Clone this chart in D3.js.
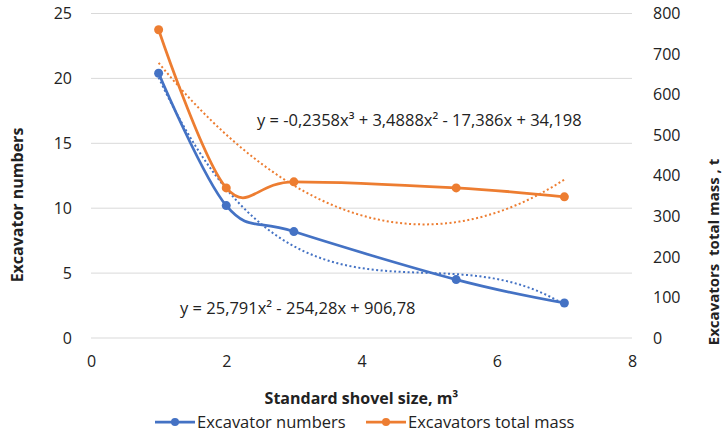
<!DOCTYPE html>
<html>
<head>
<meta charset="utf-8">
<script src="https://cdn.jsdelivr.net/npm/d3@7"></script>
<style>
  body { margin: 0; background: #fff; }
  text { font-family: "Open Sans", sans-serif; fill: #222; }
</style>
</head>
<body>
<svg id="chart" width="725" height="434"></svg>
<script>
// data
const shovelSize = [1, 2, 3, 5.4, 7];
const excavatorNumbers = [20.4, 10.2, 8.2, 4.5, 2.7];
const totalMass = [760, 370, 385, 370, 348];

// trendline coefficients as printed on the chart (highest power first)
const numbersTrend = [-0.2358, 3.4888, -17.386, 34.198];
const massTrend = [25.791, -254.28, 906.78];
const numbersTrendLabel = "y = -0,2358x³ + 3,4888x² - 17,386x + 34,198";
const massTrendLabel = "y = 25,791x² - 254,28x + 906,78";

const xTicks = [0, 2, 4, 6, 8];
const leftTicks = [0, 5, 10, 15, 20, 25];
const rightTicks = [0, 100, 200, 300, 400, 500, 600, 700, 800];

const blue = "#4472c4", orange = "#ed7d31";

const svg = d3.select("#chart");
const margin = { top: 13.5, right: 93, bottom: 96, left: 91 };
const w = 725 - margin.left - margin.right;
const h = 434 - margin.top - margin.bottom;

const x = d3.scaleLinear().domain([0, 8]).range([margin.left, margin.left + w]);
const yL = d3.scaleLinear().domain([0, 25]).range([margin.top + h, margin.top]);
const yR = d3.scaleLinear().domain([0, 800]).range([margin.top + h, margin.top]);

// gridlines
svg.append("g")
  .selectAll("line")
  .data(leftTicks)
  .join("line")
  .attr("x1", x(0)).attr("x2", x(8))
  .attr("y1", d => yL(d)).attr("y2", d => yL(d))
  .attr("stroke", "#d9d9d9").attr("stroke-width", 1);

// axes (no domain lines, no ticks)
const axL = svg.append("g").attr("transform", `translate(${margin.left},0)`)
  .call(d3.axisLeft(yL).tickValues(leftTicks).tickSize(0).tickPadding(19));
const axR = svg.append("g").attr("transform", `translate(${margin.left + w},0)`)
  .call(d3.axisRight(yR).tickValues(rightTicks).tickSize(0).tickPadding(21));
const axB = svg.append("g").attr("transform", `translate(0,${margin.top + h})`)
  .call(d3.axisBottom(x).tickValues(xTicks).tickSize(0).tickPadding(18));
[axL, axR, axB].forEach(a => {
  a.select(".domain").remove();
  a.selectAll("text").attr("font-size", 16).attr("font-family", "Open Sans").attr("fill", "#333");
});

// trendlines (dotted)
const poly = (c, v) => c.reduce((acc, k) => acc * v + k, 0);
const trendX = d3.range(1, 7.001, 0.05);
const dotted = (coef, yScale, color) =>
  svg.append("path")
    .datum(trendX)
    .attr("fill", "none")
    .attr("stroke", color)
    .attr("stroke-width", 2)
    .attr("stroke-dasharray", "2,2.5")
    .attr("d", d3.line().x(d => x(d)).y(d => yScale(poly(coef, d))));
dotted(massTrend, yR, orange);
dotted(numbersTrend, yL, blue);

// smoothed series
const series = (vals, yScale, color) => {
  const pts = shovelSize.map((s, i) => [s, vals[i]]);
  svg.append("path")
    .datum(pts)
    .attr("fill", "none")
    .attr("stroke", color)
    .attr("stroke-width", 2.75)
    .attr("d", d3.line().x(d => x(d[0])).y(d => yScale(d[1])).curve(d3.curveCardinal.tension(0)));
  svg.append("g").selectAll("circle")
    .data(pts)
    .join("circle")
    .attr("cx", d => x(d[0])).attr("cy", d => yScale(d[1]))
    .attr("r", 4.5).attr("fill", color);
};
series(excavatorNumbers, yL, blue);
series(totalMass, yR, orange);

// trend equations
svg.append("text").attr("x", 257).attr("y", 126).attr("font-size", 16.5).text(numbersTrendLabel);
svg.append("text").attr("x", 180).attr("y", 314).attr("font-size", 16.5).text(massTrendLabel);

// axis titles
svg.append("text")
  .attr("transform", "translate(23,205) rotate(-90)")
  .attr("text-anchor", "middle").attr("font-size", 16).attr("font-weight", "bold")
  .text("Excavator numbers");
svg.append("text")
  .attr("transform", "translate(719,252) rotate(-90)")
  .attr("text-anchor", "middle").attr("font-size", 15).attr("font-weight", "bold")
  .style("white-space", "pre")
  .text("Excavators  total mass , t");
svg.append("text")
  .attr("x", x(4)).attr("y", 404)
  .attr("text-anchor", "middle").attr("font-size", 16).attr("font-weight", "bold")
  .text("Standard shovel size, m³");

// legend
const legend = [
  { name: "Excavator numbers", color: blue, x: 155 },
  { name: "Excavators total mass", color: orange, x: 366 }
];
const lg = svg.append("g").selectAll("g").data(legend).join("g")
  .attr("transform", d => `translate(${d.x},422)`);
lg.append("line").attr("x1", 0).attr("x2", 40).attr("stroke", d => d.color).attr("stroke-width", 2.75);
lg.append("circle").attr("cx", 20).attr("r", 4).attr("fill", d => d.color);
lg.append("text").attr("x", 42).attr("y", 6).attr("font-size", 16.5).text(d => d.name);
</script>
</body>
</html>
